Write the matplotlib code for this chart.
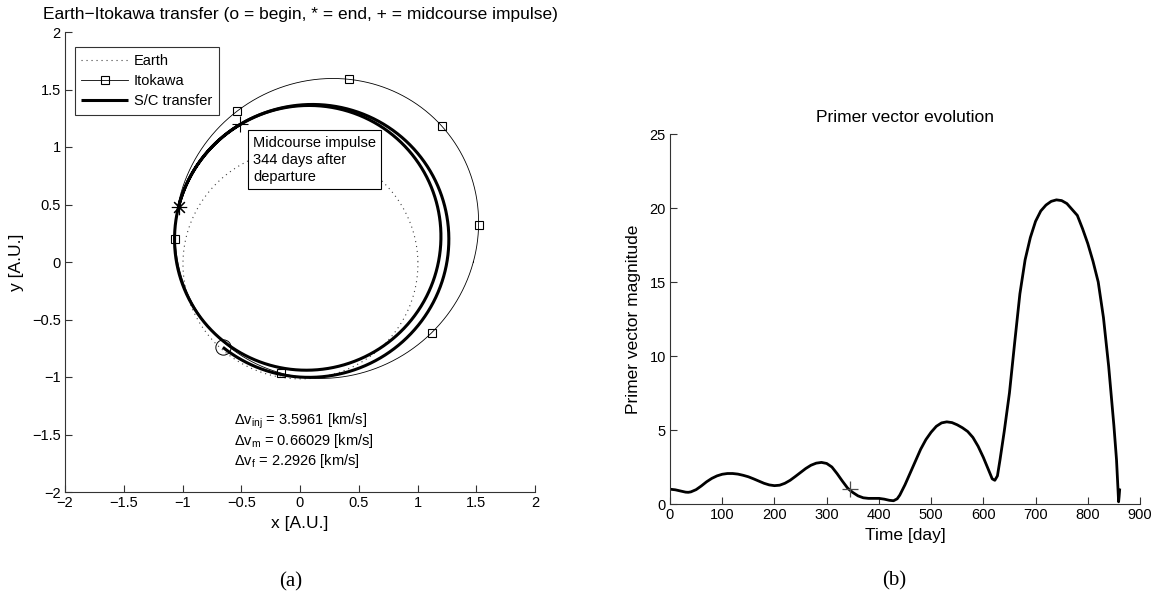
import numpy as np
import matplotlib
matplotlib.use("Agg")
import matplotlib.pyplot as plt

plt.rcParams['font.family'] = ['Liberation Sans', 'DejaVu Sans']
plt.rcParams['mathtext.fontset'] = 'custom'
plt.rcParams['mathtext.rm'] = 'Liberation Sans'
plt.rcParams['mathtext.it'] = 'Liberation Sans:italic'
plt.rcParams['axes.unicode_minus'] = True

# Heliocentric conic elements (AU, deg): Earth, Itokawa and the two transfer legs
earth_elems = dict(a=1.0, e=0.0167, varpi=102.9, lon0=0.0, lon1=360.0)
itokawa_elems = dict(a=1.324, e=0.280, varpi=231.9, lon0=0.0, lon1=360.0)
leg1_elems = dict(a=1.190, e=0.172, varpi=243.6, lon0=228.5, lon1=473.0)
leg2_elems = dict(a=1.153, e=0.191, varpi=252.6, lon0=113.0, lon1=515.0)

# Longitudes of the Itokawa sample markers (deg)
itokawa_marker_lon = [260.4, 331.3, 11.8, 44.3, 75.2, 112.2, 169.2]

# Impulse summary
dv_names = ['inj', 'm', 'f']
dv_values = ['3.5961', '0.66029', '2.2926']
midcourse_label = 'Midcourse impulse\n344 days after\ndeparture'

# Primer vector magnitude history
primer_day = [0, 10, 20, 30, 35, 40, 50, 60, 70, 80, 90, 100, 110, 120, 130, 140,
              150, 160, 170, 180, 190, 200, 210, 220, 230, 240, 250, 260, 270, 280,
              290, 300, 310, 320, 330, 340, 344, 350, 360, 370, 380, 390, 400, 410,
              420, 428, 435, 440, 450, 460, 470, 480, 490, 500, 510, 520, 530, 540,
              550, 560, 570, 580, 590, 600, 610, 617, 622, 627, 632, 640, 650, 660,
              670, 680, 690, 700, 710, 720, 730, 740, 750, 760, 770, 780, 790, 800,
              810, 820, 830, 840, 845, 850, 855, 858, 859, 860, 861]
primer_mag = [1.00, 0.96, 0.88, 0.80, 0.79, 0.82, 0.97, 1.22, 1.50, 1.73, 1.90, 2.01,
              2.06, 2.06, 2.02, 1.94, 1.84, 1.70, 1.55, 1.40, 1.29, 1.24, 1.27, 1.40,
              1.60, 1.86, 2.13, 2.40, 2.62, 2.76, 2.81, 2.74, 2.50, 2.05, 1.55, 1.08,
              0.95, 0.78, 0.55, 0.42, 0.38, 0.38, 0.38, 0.33, 0.25, 0.22, 0.35, 0.60,
              1.30, 2.10, 2.90, 3.70, 4.35, 4.85, 5.25, 5.48, 5.55, 5.50, 5.35, 5.15,
              4.90, 4.50, 3.90, 3.15, 2.30, 1.70, 1.60, 1.90, 3.00, 4.90, 7.50, 10.9,
              14.2, 16.5, 18.0, 19.1, 19.8, 20.2, 20.45, 20.55, 20.5, 20.3, 19.9, 19.5,
              18.6, 17.6, 16.4, 15.0, 12.6, 9.3, 7.3, 5.3, 3.0, 0.9, 0.15, 0.5, 0.95]
midcourse_day = 344
midcourse_mag = 1.0


def conic_xy(el, lon=None, n=1600):
    if lon is None:
        lon = np.linspace(el['lon0'], el['lon1'], n)
    th = np.radians(np.asarray(lon, dtype=float))
    p = el['a'] * (1 - el['e'] ** 2)
    r = p / (1 + el['e'] * np.cos(th - np.radians(el['varpi'])))
    return r * np.cos(th), r * np.sin(th)


fig = plt.figure(figsize=(11.57, 5.97), dpi=100)
W, H = 1157, 597
ax1 = fig.add_axes([65 / W, 1 - 492 / H, 470 / W, 460 / H])
ax2 = fig.add_axes([670 / W, 1 - 504 / H, 470 / W, 370 / H])

fs = 10.5      # ticks, legend, annotations
fs_lab = 12.5  # titles and axis labels
asterisk = (8, 2, 0)

# ---- (a) orbit plot
ex, ey = conic_xy(earth_elems)
ax1.plot(ex, ey, color='0.25', lw=0.8, ls=(0, (1, 3.5)), label='Earth')
ix, iy = conic_xy(itokawa_elems)
ax1.plot(ix, iy, color='black', lw=0.6)
mx, my = conic_xy(itokawa_elems, itokawa_marker_lon)
ax1.plot(mx, my, ls='none', marker='s', ms=6, mfc='none', mec='black', mew=0.8)
ax1.plot([], [], color='black', lw=0.6, marker='s', ms=6, mfc='none', mec='black',
         mew=0.8, label='Itokawa')
l1x, l1y = conic_xy(leg1_elems)
l2x, l2y = conic_xy(leg2_elems)
ax1.plot(l1x, l1y, color='black', lw=2.2, label='S/C transfer', solid_capstyle='butt')
ax1.plot(l2x, l2y, color='black', lw=2.2, solid_capstyle='butt')

ax1.plot(l1x[0], l1y[0], ls='none', marker='o', ms=11, mfc='none', mec='black', mew=0.7)
ax1.plot(l1x[-1], l1y[-1], ls='none', marker='+', ms=11, mec='black', mew=0.8)
ax1.plot(l2x[-1], l2y[-1], ls='none', marker=asterisk, ms=11, mec='black', mew=0.8)

ax1.set_xlim(-2, 2)
ax1.set_ylim(-2, 2)
ax1.set_xticks(np.arange(-2, 2.01, 0.5))
ax1.set_yticks(np.arange(-2, 2.01, 0.5))
ax1.set_xticklabels(['−2', '−1.5', '−1', '−0.5', '0', '0.5', '1', '1.5', '2'])
ax1.set_yticklabels(['−2', '−1.5', '−1', '−0.5', '0', '0.5', '1', '1.5', '2'])
ax1.set_xlabel('x [A.U.]', fontsize=fs_lab, labelpad=4)
ax1.set_ylabel('y [A.U.]', fontsize=fs_lab, labelpad=6)
ax1.set_title('Earth−Itokawa transfer (o = begin, * = end, + = midcourse impulse)',
              fontsize=fs_lab, pad=9)

leg = ax1.legend(loc='upper left', bbox_to_anchor=(0.021, 0.967), borderaxespad=0,
                 fontsize=fs, frameon=True, fancybox=False, handlelength=3.2,
                 handletextpad=0.4, borderpad=0.45, labelspacing=0.42)
leg.get_frame().set_edgecolor('black')
leg.get_frame().set_linewidth(0.8)

ax1.text(-0.40, 1.10, midcourse_label, ha='left', va='top', fontsize=fs,
         linespacing=1.28, zorder=10,
         bbox=dict(boxstyle='square,pad=0.35', fc='white', ec='black', lw=0.8))

for k, (nm, val) in enumerate(zip(dv_names, dv_values)):
    ax1.text(-0.56, -1.41 - 0.178 * k, 'Δv$_{\\mathrm{%s}}$ = %s [km/s]' % (nm, val),
             ha='left', va='baseline', fontsize=fs)

# ---- (b) primer vector plot
ax2.plot(primer_day, primer_mag, color='black', lw=2.0, solid_joinstyle='round')
ax2.plot(midcourse_day, midcourse_mag, ls='none', marker='+', ms=11, mec='0.3', mew=0.9)
ax2.set_xlim(0, 900)
ax2.set_ylim(0, 25)
ax2.set_xticks(np.arange(0, 901, 100))
ax2.set_yticks(np.arange(0, 26, 5))
ax2.set_xlabel('Time [day]', fontsize=fs_lab, labelpad=4)
ax2.set_ylabel('Primer vector magnitude', fontsize=fs_lab, labelpad=6)
ax2.set_title('Primer vector evolution', fontsize=fs_lab, pad=9)

for ax in (ax1, ax2):
    for side in ('top', 'right'):
        ax.spines[side].set_visible(False)
    for side in ('left', 'bottom'):
        ax.spines[side].set_linewidth(0.8)
        ax.spines[side].set_color('0.2')
    ax.tick_params(direction='in', length=5, width=0.8, color='0.2',
                   labelsize=fs, pad=3)

fig.text(291 / W, 1 - 582 / H, '(a)', ha='center', va='center', fontsize=15,
         family='Liberation Serif')
fig.text(894 / W, 1 - 581 / H, '(b)', ha='center', va='center', fontsize=15,
         family='Liberation Serif')

fig.savefig('out.png', dpi=100)
